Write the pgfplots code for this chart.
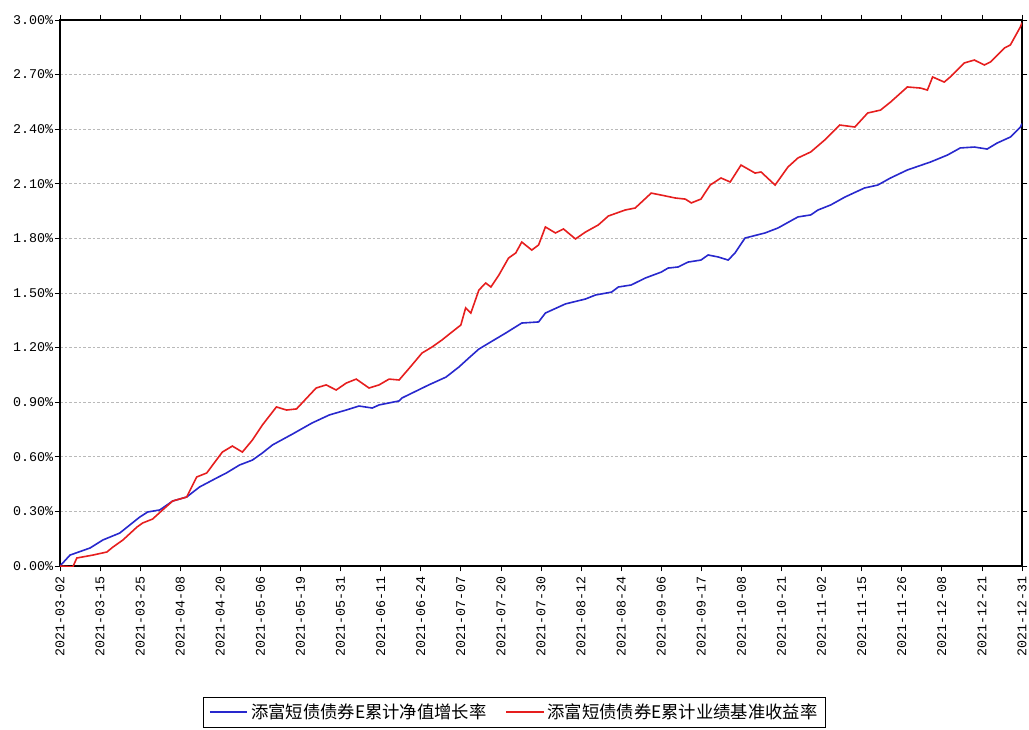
\documentclass[border=0pt]{standalone}
\usepackage{fontspec}
\setmonofont{Liberation Mono}
\newfontfamily\cjk{Noto Sans CJK SC}
\usepackage{pgfplots}
\pgfplotsset{compat=1.18}

\definecolor{navline}{RGB}{40,40,205}
\definecolor{benchline}{RGB}{230,30,30}

\begin{document}
\begin{tikzpicture}
\begin{axis}[
    name=ax,
    scale only axis,
    width=721.5pt,
    height=409.5pt,
    xmin=0, xmax=24,
    ymin=0, ymax=3,
    xtick={0,...,24},
    xticklabels={2021-03-02,2021-03-15,2021-03-25,2021-04-08,2021-04-20,2021-05-06,2021-05-19,2021-05-31,2021-06-11,2021-06-24,2021-07-07,2021-07-20,2021-07-30,2021-08-12,2021-08-24,2021-09-06,2021-09-17,2021-10-08,2021-10-21,2021-11-02,2021-11-15,2021-11-26,2021-12-08,2021-12-21,2021-12-31},
    ytick={0,0.3,0.6,0.9,1.2,1.5,1.8,2.1,2.4,2.7,3.0},
    yticklabel={\pgfmathprintnumber[fixed,fixed zerofill,precision=2]{\tick}\%},
    /pgf/number format/assume math mode=true,
    tick label style={font=\ttfamily\fontsize{10}{12}\selectfont},
    xticklabel style={rotate=90, anchor=east},
    yticklabel style={inner sep=1pt},
    tick align=outside,
    major tick length=4pt,
    tick style={black, line width=0.6pt},
    axis line style={black, line width=0.8pt},
    ymajorgrids=true,
    major grid style={gray!55, dash pattern=on 2pt off 1.5pt, line width=0.5pt},
    legend style={
        at={(0.4725,-0.268)}, anchor=center,
        legend columns=2,
        draw=black, line width=0.6pt,
        font=\cjk\fontsize{13}{15}\selectfont,
        inner xsep=4pt, inner ysep=3pt,
        /tikz/every even column/.append style={column sep=12pt},
    },
    legend image code/.code={\draw[#1, line width=1.6pt] (0pt,0pt) -- (28pt,0pt);},
]

% 累计净值增长率
\addplot[color=navline, line width=1.2pt] coordinates {
    (0,0.00) (0.25,0.060) (0.75,0.099) (1.07,0.143) (1.49,0.181) (1.99,0.269)
    (2.19,0.297) (2.49,0.308) (2.81,0.357) (3.16,0.379) (3.48,0.434) (3.91,0.484)
    (4.15,0.511) (4.48,0.555) (4.80,0.582) (5.05,0.621) (5.30,0.665) (5.80,0.725)
    (6.29,0.786) (6.72,0.830) (7.14,0.857) (7.46,0.879) (7.79,0.868) (7.96,0.885)
    (8.46,0.907) (8.53,0.923) (9.20,0.995) (9.63,1.038) (9.95,1.093) (10.20,1.143)
    (10.45,1.192) (10.70,1.225) (11.12,1.280) (11.52,1.335) (11.94,1.341) (12.11,1.390)
    (12.61,1.440) (13.11,1.467) (13.36,1.489) (13.76,1.505) (13.93,1.533) (14.25,1.544)
    (14.60,1.582) (15.00,1.615) (15.17,1.637) (15.42,1.643) (15.67,1.670) (15.99,1.681)
    (16.17,1.709) (16.42,1.698) (16.67,1.681) (16.84,1.720) (17.09,1.802) (17.59,1.830)
    (17.91,1.857) (18.41,1.918) (18.73,1.929) (18.91,1.956) (19.23,1.984) (19.58,2.027)
    (20.07,2.077) (20.40,2.093) (20.72,2.132) (21.14,2.176) (21.72,2.220) (22.14,2.258)
    (22.46,2.297) (22.81,2.302) (23.13,2.291) (23.38,2.324) (23.71,2.357) (23.96,2.412)
    (24,2.43)
};
\addlegendentry{添富短债债券E累计净值增长率}

% 累计业绩基准收益率
\addplot[color=benchline, line width=1.2pt] coordinates {
    (0,0.00) (0.32,-0.005) (0.42,0.044) (0.82,0.060) (1.17,0.077) (1.32,0.104)
    (1.57,0.143) (1.92,0.214) (2.06,0.236) (2.31,0.258) (2.56,0.308) (2.81,0.357)
    (3.16,0.379) (3.41,0.489) (3.66,0.511) (4.05,0.626) (4.30,0.659) (4.55,0.626)
    (4.80,0.692) (5.05,0.775) (5.40,0.874) (5.65,0.857) (5.90,0.863) (6.39,0.978)
    (6.64,0.995) (6.89,0.967) (7.14,1.005) (7.39,1.027) (7.71,0.978) (7.96,0.995)
    (8.21,1.027) (8.46,1.022) (8.78,1.104) (9.03,1.170) (9.28,1.203) (9.53,1.242)
    (9.78,1.286) (10.00,1.324) (10.12,1.418) (10.25,1.390) (10.45,1.516) (10.62,1.555)
    (10.75,1.533) (10.95,1.599) (11.19,1.692) (11.37,1.720) (11.52,1.780) (11.77,1.736)
    (11.94,1.764) (12.11,1.863) (12.36,1.830) (12.56,1.852) (12.86,1.797) (13.11,1.835)
    (13.43,1.874) (13.68,1.923) (14.10,1.956) (14.35,1.967) (14.75,2.049) (15.00,2.038)
    (15.35,2.022) (15.60,2.016) (15.75,1.995) (15.99,2.016) (16.22,2.093) (16.49,2.132)
    (16.72,2.110) (16.99,2.203) (17.34,2.159) (17.49,2.165) (17.84,2.093) (18.16,2.192)
    (18.41,2.242) (18.73,2.275) (19.08,2.341) (19.45,2.423) (19.83,2.412) (20.15,2.489)
    (20.47,2.505) (20.72,2.549) (21.14,2.632) (21.47,2.626) (21.64,2.615) (21.77,2.687)
    (22.06,2.659) (22.21,2.687) (22.56,2.764) (22.81,2.780) (23.06,2.753) (23.21,2.769)
    (23.56,2.846) (23.71,2.863) (23.96,2.962) (24,2.985)
};
\addlegendentry{添富短债债券E累计业绩基准收益率}

\end{axis}
\pgfresetboundingbox
\path ([xshift=-45pt,yshift=-122.25pt]ax.south west) rectangle ([xshift=726.75pt,yshift=424.5pt]ax.south west);
\end{tikzpicture}
\end{document}
